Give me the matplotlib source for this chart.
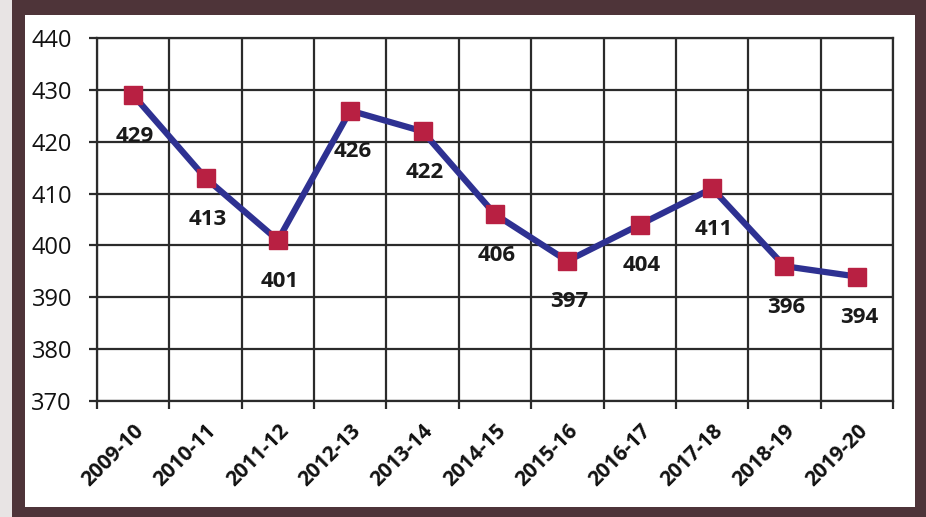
import matplotlib
matplotlib.use('Agg')
import matplotlib.pyplot as plt
from matplotlib.patches import Rectangle

years = ["2009-10", "2010-11", "2011-12", "2012-13", "2013-14", "2014-15",
         "2015-16", "2016-17", "2017-18", "2018-19", "2019-20"]
values = [429, 413, 401, 426, 422, 406, 397, 404, 411, 396, 394]
y_ticks = [370, 380, 390, 400, 410, 420, 430, 440]

W, H = 926, 517
fig = plt.figure(figsize=(W / 100, H / 100), dpi=100)
fig.patch.set_facecolor('#4e3439')
# white inner card
fig.patches.append(Rectangle((25 / W, 10 / H), 890 / W, 492 / H,
                             transform=fig.transFigure, facecolor='white',
                             edgecolor='none', zorder=-10))
fig.patches.append(Rectangle((0, 0), 12 / W, 1, transform=fig.transFigure,
                             facecolor='#e8e4e4', edgecolor='none', zorder=-10))

ax = fig.add_axes([97 / W, 1 - 401 / H, 796 / W, 363 / H])
ax.set_facecolor('white')

x = list(range(len(years)))
ax.plot(x, values, color='#2e3192', linewidth=4.5, marker='s', markersize=13,
        markerfacecolor='#b82042', markeredgecolor='#b82042', zorder=3,
        clip_on=False)

for xi, v in zip(x, values):
    ax.annotate(str(v), (xi, v), xytext=(2, -41), textcoords='offset pixels',
                ha='center', va='center', fontsize=16, fontweight='bold',
                color='#1a1a1a', family='Open Sans')

ax.set_xlim(-0.5, len(years) - 0.5)
ax.set_ylim(370, 440)
ax.set_yticks(y_ticks)
ax.set_yticklabels([str(t) for t in y_ticks], fontsize=17, family='Open Sans',
                   color='#111111')
ax.set_xticks(x)
ax.set_xticklabels(years, rotation=45, ha='right', rotation_mode='anchor',
                   fontsize=15, fontweight='bold', family='Open Sans',
                   color='#111111')
ax.set_xticks([i - 0.5 for i in range(len(years) + 1)], minor=True)

ax.grid(False)
for t in y_ticks:
    ax.axhline(t, color='#2b2b2b', linewidth=1.6, zorder=1)
for i in range(len(years) + 1):
    ax.axvline(i - 0.5, color='#2b2b2b', linewidth=1.6, zorder=1)

ax.tick_params(axis='x', which='major', length=0, pad=14)
ax.tick_params(axis='x', which='minor', length=6, width=1.6, color='#2b2b2b',
               direction='out')
ax.tick_params(axis='y', length=6, width=1.6, color='#2b2b2b', pad=12)
for s in ax.spines.values():
    s.set_color('#2b2b2b')
    s.set_linewidth(1.6)

fig.savefig('out.png', dpi=100, facecolor=fig.get_facecolor())
